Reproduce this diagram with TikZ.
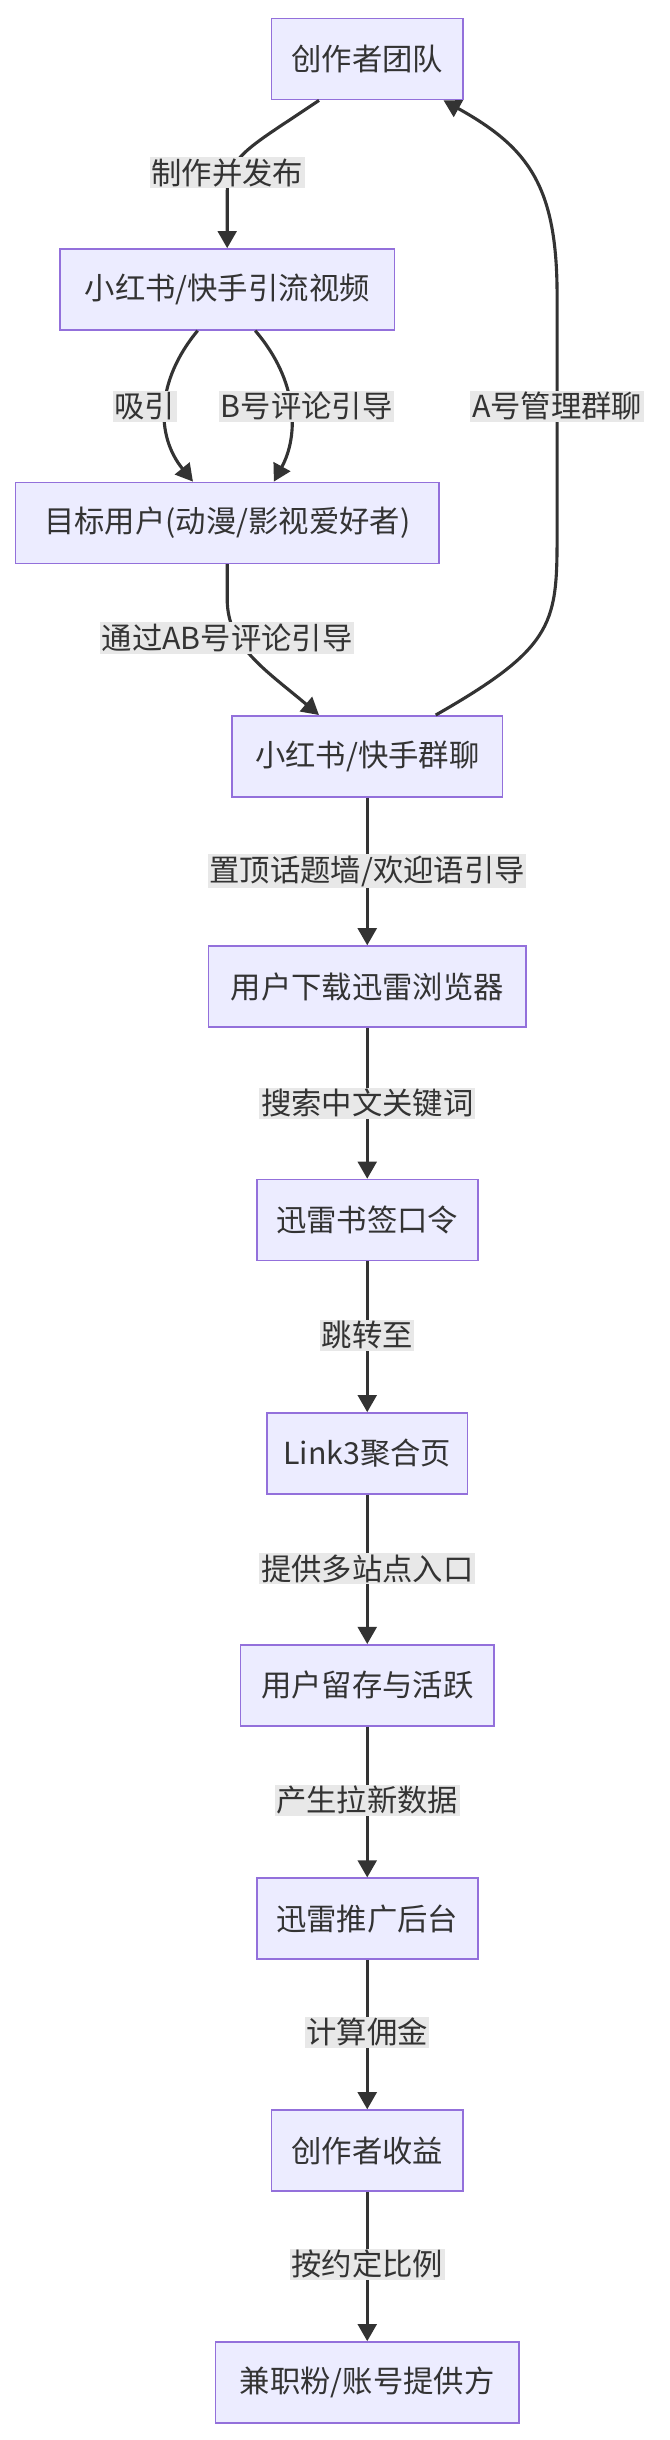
\documentclass[tikz,border=0pt]{standalone}
\usepackage{fontspec}
\setmainfont{Noto Sans CJK SC}
\usetikzlibrary{arrows.meta}
\definecolor{boxfill}{HTML}{ECECFF}
\definecolor{boxline}{HTML}{9370DB}
\definecolor{edge}{HTML}{333333}
\definecolor{lab}{HTML}{E8E8E8}
\begin{document}
\begin{tikzpicture}[x=1pt,y=-1pt,
  box/.style={draw=boxline,fill=boxfill,line width=1pt,minimum height=52pt,inner xsep=4pt,font=\fontsize{19.5}{22}\selectfont,text=edge},
  lbl/.style={fill=lab,inner sep=1pt,font=\fontsize{19.5}{22}\selectfont,text=edge},
  arr/.style={draw=edge,line width=2pt,-{Triangle[length=11pt,width=12pt]}}]
\useasboundingbox (0,0) rectangle (430,1568);
\node[box,minimum width=123pt] (a) at (236,38) {创作者团队};
\node[box,minimum width=215pt] (b) at (146,186) {小红书/快手引流视频};
\node[box,minimum width=272pt] (c) at (146,336) {目标用户(动漫/影视爱好者)};
\node[box,minimum width=174pt] (d) at (236,486) {小红书/快手群聊};
\node[box,minimum width=204pt] (e) at (236,634) {用户下载迅雷浏览器};
\node[box,minimum width=142pt] (f) at (236,784) {迅雷书签口令};
\node[box,minimum width=129pt] (g) at (236,934) {Link3聚合页};
\node[box,minimum width=163pt] (h) at (236,1083) {用户留存与活跃};
\node[box,minimum width=142pt] (i) at (236,1233) {迅雷推广后台};
\node[box,minimum width=123pt] (j) at (236,1382) {创作者收益};
\node[box,minimum width=195pt] (k) at (236,1531) {兼职粉/账号提供方};

\coordinate (a1) at ([xshift=-31pt]a.south);
\coordinate (a2) at ([xshift=49pt]a.south);
\coordinate (b1) at ([xshift=-19pt]b.south);
\coordinate (b2) at ([xshift=18pt]b.south);
\coordinate (c1) at ([xshift=-22pt]c.north);
\coordinate (c2) at ([xshift=30pt]c.north);
\coordinate (d1) at ([xshift=-31pt]d.north);
\coordinate (d2) at ([xshift=44pt]d.north);

\draw[arr] (a1) .. controls (160,95) and (146,100) .. (146,125) -- (b.north);
\draw[arr] (b1) .. controls (100,245) and (100,280) .. (c1);
\draw[arr] (b2) .. controls (192,245) and (192,280) .. (c2);
\draw[arr] (c.south) -- (146,385) .. controls (146,415) and (170,430) .. (d1);
\draw[arr] (d2) .. controls (358,415) and (358,400) .. (358,340) -- (358,190) .. controls (358,120) and (340,95) .. (a2);
\foreach \u/\v in {d/e,e/f,f/g,g/h,h/i,i/j,j/k} \draw[arr] (\u) -- (\v);

\node[lbl] (l1) at (146,111) {制作并发布};
\node[lbl] (l2) at (93,261) {吸引};
\node[lbl] (l3) at (197,261) {B号评论引导};
\node[lbl] (l4) at (358,261) {A号管理群聊};
\node[lbl] (l5) at (146,410) {通过AB号评论引导};
\node[lbl] (l6) at (236,560) {置顶话题墙/欢迎语引导};
\node[lbl] (l7) at (236,709) {搜索中文关键词};
\node[lbl] (l8) at (236,858) {跳转至};
\node[lbl] (l9) at (236,1008) {提供多站点入口};
\node[lbl] (l10) at (236,1157) {产生拉新数据};
\node[lbl] (l11) at (236,1306) {计算佣金};
\node[lbl] (l12) at (236,1455) {按约定比例};
\end{tikzpicture}
\end{document}
